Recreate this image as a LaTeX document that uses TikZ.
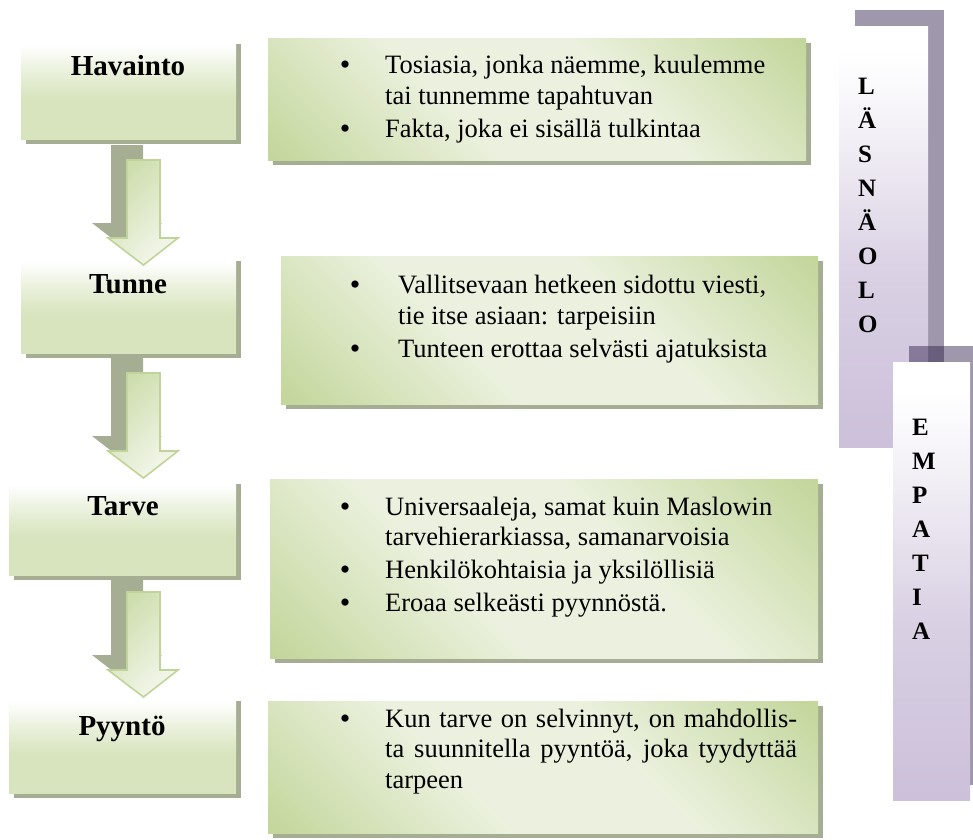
\documentclass[tikz,border=0pt]{standalone}
\usepackage{fontspec}
\setmainfont{Liberation Serif}
\newfontfamily\tnr{Liberation Serif}
\usetikzlibrary{shadows}
\definecolor{gshadow}{HTML}{A5AE93}
\definecolor{gdark}{HTML}{C3D69B}
\definecolor{glight}{HTML}{EBF1DE}
\definecolor{gleft}{HTML}{D7E4BD}
\definecolor{gborder}{HTML}{C0D398}
\definecolor{pshadowbase}{RGB}{42,24,69}
\definecolor{pbox}{HTML}{CCC0DA}
\pgfdeclareverticalshading{leftgreen}{100bp}{color(0bp)=(gleft); color(25bp)=(gleft); color(45bp)=(gleft); color(60bp)=(gleft!50!white); color(72bp)=(white); color(100bp)=(white)}
\pgfdeclareverticalshading{purplebar}{100bp}{color(0bp)=(pbox); color(25bp)=(pbox); color(45bp)=(pbox!75!white); color(62bp)=(pbox!25!white); color(72bp)=(white); color(100bp)=(white)}
\pgfdeclarehorizontalshading{diagband}{100bp}{color(0bp)=(gdark); color(15bp)=(gdark); color(40bp)=(glight); color(60bp)=(glight); color(85bp)=(gdark); color(100bp)=(gdark)}
\tikzset{
  leftbox/.style={shading=leftgreen, anchor=north west, inner sep=0pt,
    drop shadow={shadow xshift=5pt, shadow yshift=-5pt, fill=gshadow, opacity=1}},
  rightbox/.style 2 args={anchor=north west, inner sep=0pt,
    minimum width=#1pt, minimum height=#2pt,
    shading=diagband, shading angle=45,
    drop shadow={shadow xshift=5pt, shadow yshift=-5pt, fill=gshadow, opacity=1}},
  purplebox/.style={shading=purplebar, anchor=north west, inner sep=0pt},
  pshadow/.style={fill=pshadowbase, fill opacity=0.45},
  label/.style={font=\tnr\bfseries\fontsize{29}{34}\selectfont, anchor=base, inner sep=0pt},
  body/.style={font=\tnr\fontsize{26.5}{30}\selectfont, anchor=base west, inner sep=0pt},
  bullet/.style={font=\tnr\fontsize{30}{30}\selectfont, anchor=base, inner sep=0pt},
  vlet/.style={font=\tnr\bfseries\fontsize{25}{34}\selectfont, anchor=base west, inner sep=0pt},
  arrowshadow/.style={fill=gshadow, draw=none},
  arrowbody/.style={left color=gdark!75!glight, right color=glight!60!white, shading angle=45, draw=gborder, line width=1.6pt, line join=miter}
}
\begin{document}
\begin{tikzpicture}[x=1pt, y=-1pt]
\useasboundingbox (0,0) rectangle (973,839);

% ---------- purple bars ----------
\fill[pshadow] (855,10) rectangle (944,431);
\node[purplebox, minimum width=89pt, minimum height=421pt] (laso) at (839,26) {};
\fill[pshadow] (909,346) rectangle (986,785);
\node[purplebox, minimum width=77pt, minimum height=438pt] (empa) at (893,362) {};
\foreach \l [count=\i from 0] in {L,Ä,S,N,Ä,O,L,O}
  \node[vlet] (las\i) at (858,94+34*\i) {\l};
\foreach \l [count=\i from 0] in {E,M,P,A,T,I,A}
  \node[vlet] (emp\i) at (912,435+34*\i) {\l};

% ---------- left boxes ----------
\node[leftbox, minimum width=215pt, minimum height=100pt] (hav) at (21,39) {};
\node[leftbox, minimum width=215pt, minimum height=97pt] (tun) at (21,256) {};
\node[leftbox, minimum width=227pt, minimum height=96pt] (tar) at (9,479) {};
\node[leftbox, minimum width=227pt, minimum height=97pt] (pyy) at (9,696) {};

\node[label] (havl) at (128,75) {Havainto};
\node[label] (tunl) at (128,293) {Tunne};
\node[label] (tarl) at (123,515) {Tarve};
\node[label] (pyyl) at (122,735) {Pyyntö};

% ---------- arrows ----------
\foreach \yt/\nm in {160/a1, 373/a2, 592/a3}{
  \begin{scope}[shift={(143.5,\yt)}]
    \fill[arrowshadow] (-32.5,-15) -- (-0.5,-15) -- (-0.5,63) -- (18.5,63) -- (-16.5,90) -- (-51.5,63) -- (-32.5,63) -- cycle;
    \path[arrowbody] (-16.5,0) -- (16.5,0) -- (16.5,78) -- (34.5,78) -- (0,105) -- (-35.5,78) -- (-16.5,78) -- cycle;
    \coordinate (\nm) at (0,105);
  \end{scope}
}

% ---------- right boxes ----------
\node[rightbox={538}{122}] (r1) at (268,38) {};
\node[rightbox={537}{148}] (r2) at (281,256) {};
\node[rightbox={548}{179}] (r3) at (270,479) {};
\node[rightbox={550}{132}] (r4) at (268,701) {};

% box 1 text
\node[bullet] (b11) at (345,74) {•};
\node[body] (t11) at (385,73) {Tosiasia, jonka näemme, kuulemme};
\node[body] (t12) at (385,104) {tai tunnemme tapahtuvan};
\node[bullet] (b12) at (345,138) {•};
\node[body] (t13) at (385,137) {Fakta, joka ei sisällä tulkintaa};

% box 2 text
\node[bullet] (b21) at (355,294) {•};
\node[body] (t21) at (398,293) {Vallitsevaan hetkeen sidottu viesti,};
\node[body] (t22) at (398,324) {tie itse asiaan: tarpeisiin};
\node[bullet] (b22) at (355,358) {•};
\node[body] (t23) at (398,357) {Tunteen erottaa selvästi ajatuksista};

% box 3 text
\node[bullet] (b31) at (345,516) {•};
\node[body] (t31) at (385,515) {Universaaleja, samat kuin Maslowin};
\node[body] (t32) at (385,545) {tarvehierarkiassa, samanarvoisia};
\node[bullet] (b32) at (345,579) {•};
\node[body] (t33) at (385,578) {Henkilökohtaisia ja yksilöllisiä};
\node[bullet] (b33) at (345,612) {•};
\node[body] (t34) at (385,611) {Eroaa selkeästi pyynnöstä.};

% box 4 text
\node[bullet] (b41) at (345,728) {•};
\node[body] (t41) at (385,727) {\makebox[412pt][s]{Kun tarve on selvinnyt, on mahdollis-}};
\node[body] (t42) at (385,757) {\makebox[412pt][s]{ta suunnitella pyyntöä, joka tyydyttää}};
\node[body] (t43) at (385,788) {tarpeen};
\end{tikzpicture}
\end{document}
